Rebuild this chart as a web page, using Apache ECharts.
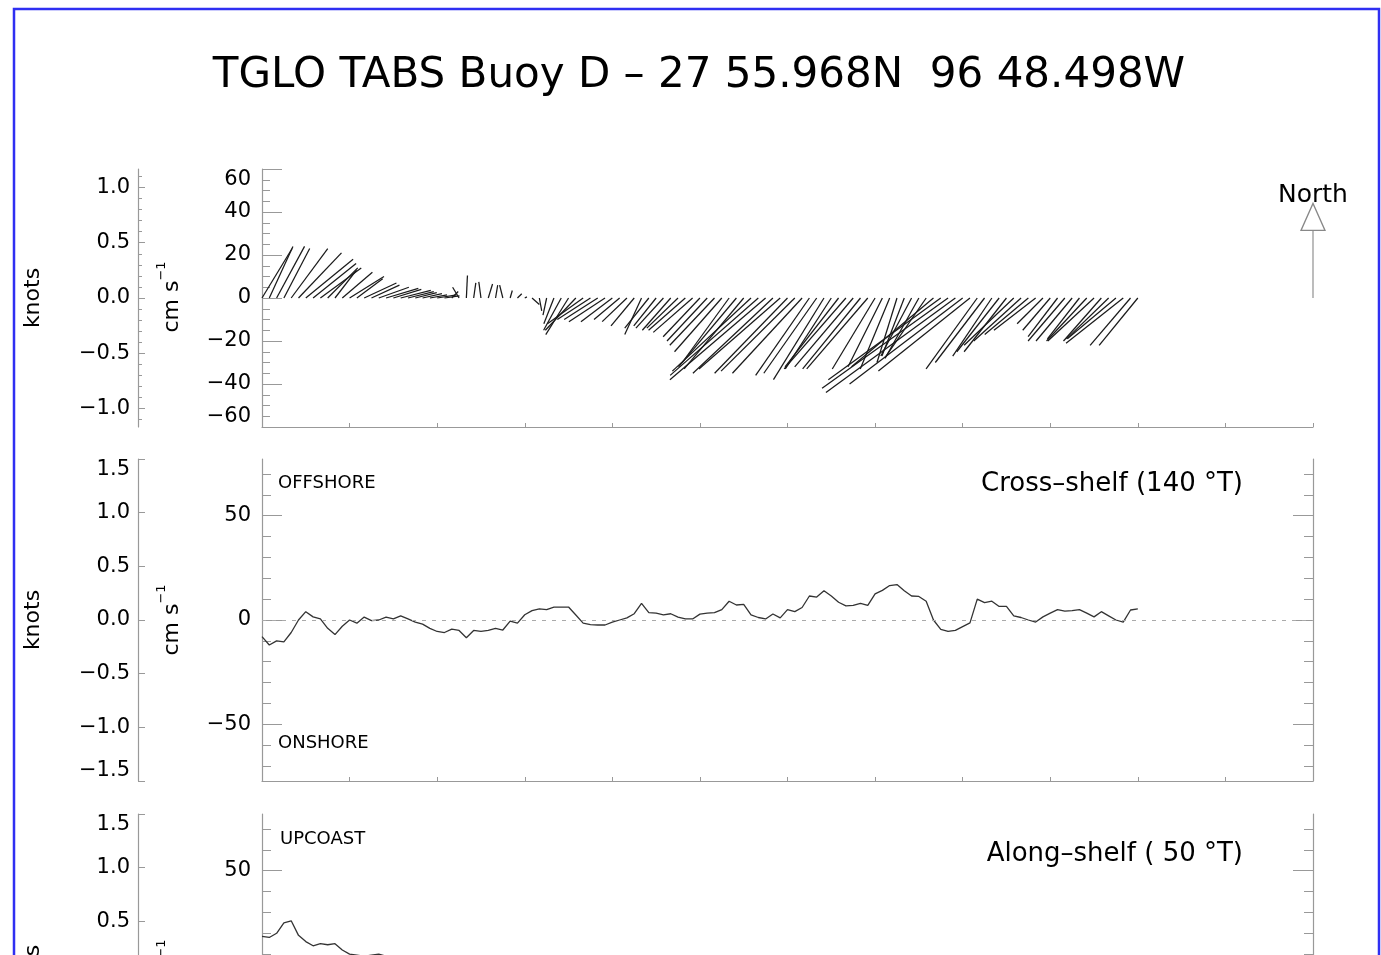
<!DOCTYPE html>
<html><head><meta charset="utf-8">
<script src="https://cdn.jsdelivr.net/npm/echarts@6/dist/echarts.min.js"></script>
<style>html,body{margin:0;padding:0;background:#fff;overflow:hidden}#c{width:1381px;height:955px}</style>
</head><body><div id="c"></div>
<script>
// ---------------- data (2-hourly samples, hours since start) ----------------
const STEP_HOURS = 2;
// current stick components (cm/s): east (u) and north (v)
const stickU = [14,11,13,12,17,20,22,20,19,14, 10,14,16,12,15,13,14,15,13,14, 12,10,9,8,9,7,3,-3,0.5,1,
  -1,2,1,-1.5,1,2,1,3.4,1.1,-1.7, -4.7,-8.2,-10.6,-14.2,-16.6,-15.4,-15.6,-16.8,-14.6,-11.9,
  -11.5,-10.8,-7.8,-11.2,-10.4,-12.8,-13.2,-14.5,-17.1,-18.3, -17.1,-18.7,-20.8,-22,-21.8,-26.9,-27.7,-36.6,-41,-44.5,
  -37.2,-37.8,-33.9,-34.3,-32.4,-25,-24.6,-23.5,-21.4,-24.9, -28.7,-27.2,-26.9,-28.4,-19.9,-16,-13.7,-9.3,-10.4,-14.3,
  -15.7,-19.3,-38.1,-52.3,-58.6,-60.2,-52.6,-42.6,-23.8,-22.9, -18.2,-19.7,-19.7,-23.1,-22,-20.3,-19.4,-12,-12.8,-13.7,
  -17.1,-16.8,-14.9,-18.7,-21.5,-17.6,-19.6,-22.6,-26.6,-18.8, -18];
const stickV = [23,24,24,23,23,21,18,16,14,14, 13,12,10,9,7,6,5,4.5,4,3.5, 3,2.5,2,1.5,1.5,1,3,5,10.5,7,
  7.5,6.5,6,6,3.5,2,0.5,-3,-6,-8, -12,-15,-17,-15,-12,-10,-10,-11,-11,-10,
  -11,-13,-17,-14,-13,-14,-15,-14,-15,-16, -18,-20,-22,-25,-30,-32,-33,-34,-36,-38,
  -35,-33,-35,-34,-35,-36,-35,-38,-33,-32, -33,-32,-33,-33,-33,-32,-33,-30,-27,-27,
  -28,-28,-32,-38,-42,-44,-40,-34,-33,-30, -27,-25,-25,-22,-20,-17,-15,-12,-15,-18,
  -20,-20,-19,-20,-20,-20,-19,-19,-21,-22, -22];
// cross-shelf component (cm/s, 140 deg T)
const crossShelf = [-8,-12,-10,-10.5,-6,0,4,1.5,0.5,-4, -7,-3,0,-1.5,1.4,-0.3,0,1.4,0.5,2,
  0.5,-1,-2,-4,-5.5,-6,-4.4,-5,-8.5,-5, -5.5,-5,-4,-4.8,-0.5,-1.5,2.5,4.5,5.3,5,
  6.2,6.2,6.2,2.4,-1.5,-2.2,-2.4,-2.4,-1,0, 1,3,8,3.5,3.3,2.5,3,1.4,0.5,0.5,
  2.8,3.3,3.5,5,9,7.2,7.5,2.5,1.2,0.5, 2.9,1,5,4,6,11.5,11,14,11.5,8.5,
  6.8,7,8,7,12.5,14.2,16.5,17,14,11.5, 11.3,9,0,-4.5,-5.5,-5,-3.2,-1.4,10,8.3,
  9,6.5,6.5,2,1.2,0,-1,1.5,3.3,5, 4.3,4.5,5,3.3,1.5,4,2,0,-1,4.8, 5.3];
// along-shelf component (cm/s, 50 deg T)
const alongShelf = [18.5,18,20,25,26,19,16,14,15,14.5, 15,12,10,9.5,9,9.5,10,9,8,9,
  7,6,5,5,6,5,4,2,7,5, 4,5,4,3,3,2.5,1,0.7,-3.1,-6.4,
  -11.3,-15.9,-19,-20.5,-20.4,-18.2,-18.4,-20,-18.3,-15.5, -15.9,-16.7,-16.9,-17.6,-16.4,-18.8,-19.7,-20.1,-22.7,-24.3,
  -24.7,-27.2,-30,-33,-36,-41.2,-42.4,-49.9,-54.5,-58.5, -51,-50.2,-48.5,-48.2,-47.3,-42.3,-41.3,-42.4,-37.6,-39.7,
  -43.2,-41.4,-41.8,-43,-36.4,-32.9,-31.7,-26.4,-25.4,-28.4, -30,-32.8,-49.8,-64.5,-71.9,-74.4,-66,-54.5,-39.4,-36.8,
  -31.3,-31.2,-31.2,-31.8,-29.8,-26.4,-24.5,-16.9,-19.4,-22.1, -26,-25.8,-23.6,-27.2,-29.4,-26.4,-27.2,-29.5,-33.9,-28.5, -27.9];
// axis ticks
const knotsMajorTop = [-1, -0.5, 0, 0.5, 1];
const knotsMinorTop = [-1.1,-0.9,-0.8,-0.7,-0.6,-0.4,-0.3,-0.2,-0.1,0.1,0.2,0.3,0.4,0.6,0.7,0.8,0.9,1.1];
const cmMajorLow = [-50, 0, 50];
const cmMinorLow = [-70,-60,-40,-30,-20,-10,10,20,30,40,60,70];
const northArrowCm = [[288, 44]];
const KNOT_CM = 51.444;

// ---------------- chart ----------------
const FONT = 'DejaVu Sans';
const AX = '#999';
const chart = echarts.init(document.getElementById('c'), null, {renderer: 'canvas'});
const hours = stickU.map((_, i) => i * STEP_HOURS);
const sticks = hours.map((h, i) => [h, stickU[i], stickV[i]]);
const crossData = hours.map((h, i) => [h, crossShelf[i]]);
const alongData = hours.map((h, i) => [h, alongShelf[i]]);

const minus = s => String(s).replace('-', '\u2212');
const fmtCm = v => minus(Math.round(v));
const fmtKn = v => minus((Math.round(v * 10) / 10).toFixed(1));
const lbl = {fontSize: 21, fontFamily: FONT, color: '#000'};

function xAx(g) {
  return {type: 'value', gridIndex: g, min: 0, max: 288, interval: 24,
    axisLine: {onZero: false, lineStyle: {color: AX, width: 1.2}},
    axisTick: {inside: true, length: 4, lineStyle: {color: AX}},
    axisLabel: {show: false}, splitLine: {show: false}};
}
function tickAxis(g, min, max, pos, offset, values, len, showLine, labels, fmt) {
  return {type: 'value', gridIndex: g, min, max, position: pos, offset,
    axisLine: {show: showLine, onZero: false, lineStyle: {color: AX, width: 1.2}},
    axisTick: {show: true, inside: true, length: len, customValues: values, lineStyle: {color: AX}},
    axisLabel: labels ? Object.assign({customValues: values, formatter: fmt, margin: pos === 'left' && offset ? 8 : 11}, lbl) : {show: false},
    splitLine: {show: false}};
}
const K1 = 60 / KNOT_CM, L2 = 1.5 * KNOT_CM;
const yAxes = [
  // panel 1
  {type: 'value', gridIndex: 0, min: -60, max: 60, interval: 20, position: 'left',
    axisLine: {show: true, onZero: false, lineStyle: {color: AX, width: 1.2}},
    axisTick: {inside: true, length: 20, lineStyle: {color: AX}},
    minorTick: {show: true, splitNumber: 4, length: 8, lineStyle: {color: AX}},
    axisLabel: Object.assign({formatter: fmtCm, margin: 11, verticalAlignMaxLabel: 'top', verticalAlignMinLabel: 'bottom'}, lbl),
    splitLine: {show: false}, minorSplitLine: {show: false}},
  tickAxis(0, -K1, K1, 'left', 124, knotsMajorTop, 7, true, true, fmtKn),
  tickAxis(0, -K1, K1, 'left', 124, knotsMinorTop, 4, false, false),
];
function lowerAxes(g) {
  return [
    tickAxis(g, -L2, L2, 'left', 0, cmMajorLow, 20, true, true, fmtCm),
    tickAxis(g, -L2, L2, 'left', 0, cmMinorLow, 9, false, false),
    tickAxis(g, -L2, L2, 'right', 0, cmMajorLow, 20, true, false),
    tickAxis(g, -L2, L2, 'right', 0, cmMinorLow, 9, false, false),
    {type: 'value', gridIndex: g, min: -1.5, max: 1.5, interval: 0.5, position: 'left', offset: 124,
      axisLine: {show: true, onZero: false, lineStyle: {color: AX, width: 1.2}},
      axisTick: {inside: true, length: 7, lineStyle: {color: AX}},
      axisLabel: Object.assign({formatter: fmtKn, margin: 8, verticalAlignMaxLabel: 'top', verticalAlignMinLabel: 'bottom'}, lbl),
      splitLine: {show: false}}
  ];
}
yAxes.push(...lowerAxes(1));  // indices 3..7
yAxes.push(...lowerAxes(2));  // indices 8..12

const zeroLine = {silent: true, symbol: 'none', label: {show: false},
  lineStyle: {type: [4, 6], color: '#aaa', width: 1}, data: [{yAxis: 0}]};

function txt(text, x, y, size, align, extra) {
  return Object.assign({type: 'text', x, y, silent: true,
    style: {text, fontSize: size, fontFamily: FONT, fill: '#000', align: align, textAlign: align,
      verticalAlign: 'middle', textVerticalAlign: 'middle'}}, extra || {});
}
function rot(text, x, y, rich) {
  const el = txt(text, x, y, 22, 'center', {rotation: Math.PI / 2});
  if (rich) el.style.rich = {
    m: {fontSize: 22, fontFamily: FONT, verticalAlign: 'bottom', lineHeight: 28},
    s: {fontSize: 13, fontFamily: FONT, verticalAlign: 'top'}};
  return el;
}
const unitTxt = '{m|cm s}{s|\u22121}';

chart.setOption({
  animation: false,
  backgroundColor: '#fff',
  grid: [
    {left: 262, width: 1051, top: 169, height: 258, outerBoundsMode: 'none'},
    {left: 262, width: 1051, top: 459, height: 322, outerBoundsMode: 'none'},
    {left: 262, width: 1051, top: 814, height: 322, outerBoundsMode: 'none'}
  ],
  xAxis: [xAx(0), xAx(1), xAx(2)],
  yAxis: yAxes,
  series: [
    {type: 'custom', xAxisIndex: 0, yAxisIndex: 0, data: sticks, silent: true,
      renderItem: function (params, api) {
        const p0 = api.coord([api.value(0), 0]);
        const k = api.size([0, 1])[1];
        return {type: 'line', shape: {x1: p0[0], y1: p0[1], x2: p0[0] + api.value(1) * k, y2: p0[1] - api.value(2) * k},
          style: {stroke: '#1a1a1a', lineWidth: 1.25}};
      }},
    {type: 'custom', xAxisIndex: 0, yAxisIndex: 0, data: northArrowCm, silent: true,
      renderItem: function (params, api) {
        const p0 = api.coord([api.value(0), 0]);
        const k = api.size([0, 1])[1];
        const L = api.value(1) * k, head = 27, hw = 12;
        return {type: 'group', children: [
          {type: 'line', shape: {x1: p0[0], y1: p0[1], x2: p0[0], y2: p0[1] - L + head}, style: {stroke: '#999', lineWidth: 1.3}},
          {type: 'polygon', shape: {points: [[p0[0] - hw, p0[1] - L + head], [p0[0] + hw, p0[1] - L + head], [p0[0], p0[1] - L]]},
            style: {fill: '#fff', stroke: '#888', lineWidth: 1.3}},
          {type: 'text', style: {text: 'North', x: p0[0], y: p0[1] - L + 5, align: 'center', textAlign: 'center',
            verticalAlign: 'bottom', textVerticalAlign: 'bottom', fontSize: 25, fontFamily: FONT, fill: '#000'}}
        ]};
      }},
    {type: 'line', xAxisIndex: 1, yAxisIndex: 3, data: crossData, showSymbol: false, silent: true,
      lineStyle: {color: '#333', width: 1.3}, markLine: zeroLine},
    {type: 'line', xAxisIndex: 2, yAxisIndex: 8, data: alongData, showSymbol: false, silent: true,
      lineStyle: {color: '#333', width: 1.3}, markLine: zeroLine}
  ],
  graphic: [
    {type: 'rect', silent: true, shape: {x: 14, y: 9, width: 1365, height: 1200},
      style: {fill: 'none', stroke: '#2f2ff2', lineWidth: 2.5}},
    txt('TGLO TABS Buoy D \u2013 27 55.968N  96 48.498W', 699, 76, 42, 'center'),
    rot('knots', 33, 298), rot(unitTxt, 169, 297, true),
    rot('knots', 33, 620), rot(unitTxt, 169, 620, true),
    rot('knots', 33, 975), rot(unitTxt, 169, 975, true),
    txt('OFFSHORE', 278, 483, 18, 'left'),
    txt('ONSHORE', 278, 743, 18, 'left'),
    txt('UPCOAST', 280, 839, 18, 'left'),
    txt('Cross\u2013shelf (140 \u00b0T)', 1243, 484, 26, 'right'),
    txt('Along\u2013shelf ( 50 \u00b0T)', 1243, 854, 26, 'right')
  ]
});
</script></body></html>
